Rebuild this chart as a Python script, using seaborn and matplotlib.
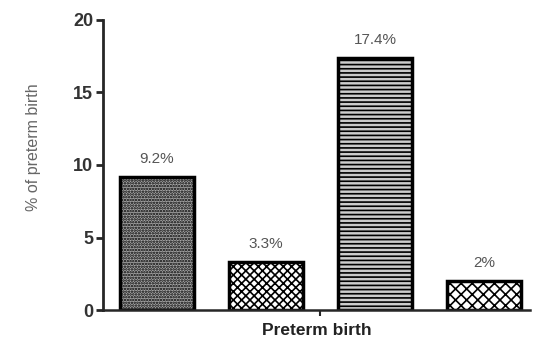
import matplotlib
matplotlib.use("Agg")
import matplotlib.pyplot as plt
import seaborn as sns
import pandas as pd

groups = ["A", "B", "C", "D"]
values = [9.2, 3.3, 17.4, 2.0]
labels = ["9.2%", "3.3%", "17.4%", "2%"]
yticks = [0, 5, 10, 15, 20]

sns.set_style("ticks")
plt.rcParams['font.family'] = ['Liberation Sans', 'DejaVu Sans']
plt.rcParams['hatch.linewidth'] = 1.2

df = pd.DataFrame({"group": groups, "value": values})

fig = plt.figure(figsize=(5.33, 3.48), dpi=100)
ax = fig.add_axes([0.193, 0.109, 0.801, 0.834])
sns.barplot(data=df, x="group", y="value", ax=ax, width=0.68,
            color="white", edgecolor="black", linewidth=2.5, saturation=1)

faces = ["#a8a8a8", "white", "#cccccc", "white"]
hatches = ["......", "xxxx", "----", "xxx"]
for p, fc, h in zip(ax.patches, faces, hatches):
    p.set_facecolor(fc)
    p.set_hatch(h)
    p.set_edgecolor("black")

for i, (v, t) in enumerate(zip(values, labels)):
    ax.text(i, v + 0.75, t, ha="center", va="bottom", fontsize=11, color="#555555")

ax.set_xlim(-0.495, 3.42)
ax.set_ylim(0, 20)
ax.set_yticks(yticks)
ax.set_yticklabels([str(t) for t in yticks], fontsize=13, fontweight="bold", color="#333333")
ax.set_xticks([1.5])
ax.set_xticklabels([""])
ax.set_xlabel("Preterm birth", fontsize=12.5, fontweight="bold", color="#222222", labelpad=2)
ax.set_ylabel("% of preterm birth", fontsize=11.5, color="#666666")
ax.yaxis.set_label_coords(-0.145, 0.56)
sns.despine(ax=ax)
ax.spines["left"].set_linewidth(2)
ax.spines["bottom"].set_linewidth(1.8)
ax.tick_params(axis="y", width=2, length=5, pad=2)
ax.tick_params(axis="x", width=1.5, length=4)

fig.savefig("out.png", dpi=100)
